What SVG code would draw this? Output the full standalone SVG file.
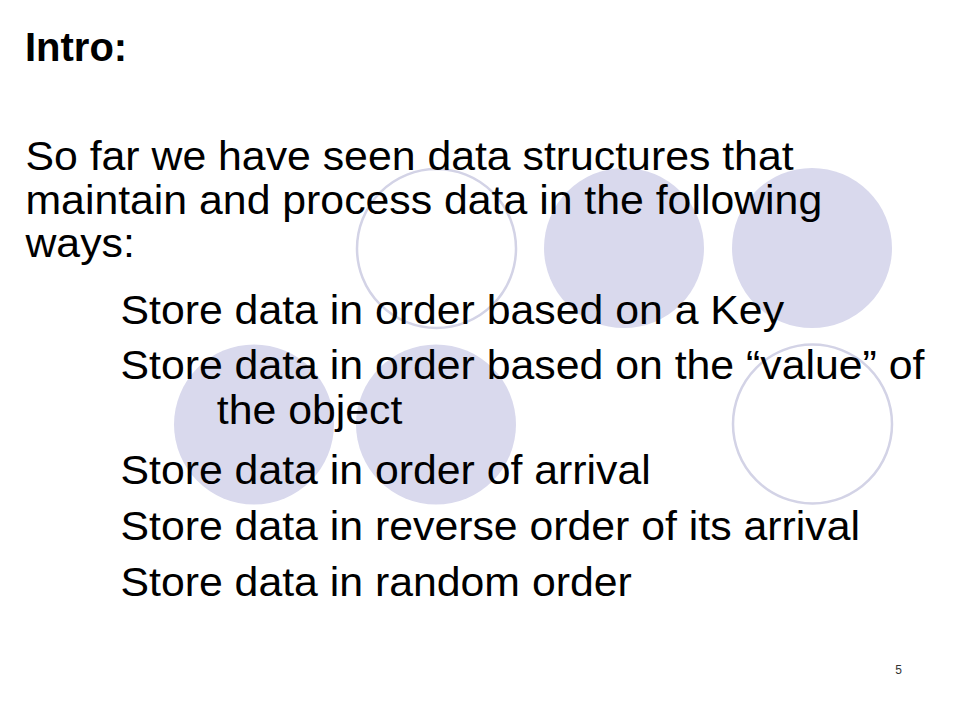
<svg xmlns="http://www.w3.org/2000/svg" width="960" height="720" viewBox="0 0 960 720">
  <style>
    .fill { fill: #d9d9ed; stroke: none; }
    .ring { fill: none; stroke: #d3d3e6; stroke-width: 2.5; }
    .body { font-family: "Liberation Sans", Arial, sans-serif; font-size: 40px; fill: #000; }
    .title { font-family: "Liberation Sans", Arial, sans-serif; font-size: 40px; font-weight: bold; fill: #000; }
    .num { font-family: "Liberation Sans", Arial, sans-serif; font-size: 12px; fill: #333; }
  </style>
  <rect width="960" height="720" fill="#ffffff"/>
  <g id="circles">
    <circle id="c1" class="ring" cx="436.5" cy="248.5" r="79.5"/>
    <circle id="c2" class="fill" cx="624" cy="248" r="80"/>
    <circle id="c3" class="fill" cx="812" cy="248" r="80"/>
    <circle id="c4" class="fill" cx="254" cy="424.5" r="80"/>
    <circle id="c5" class="fill" cx="436" cy="424.5" r="80"/>
    <circle id="c6" class="ring" cx="812.5" cy="424" r="79.5"/>
  </g>
  <g id="title">
    <text class="title" x="25" y="61">Intro:</text>
  </g>
  <g id="body" transform="scale(1.07 1)">
    <text class="body" x="23.8" y="170">So far we have seen data structures that</text>
    <text class="body" x="23.8" y="214">maintain and process data in the following</text>
    <text class="body" x="23.8" y="257">ways:</text>
    <text class="body" x="112.6" y="324">Store data in order based on a Key</text>
    <text class="body" x="112.6" y="379">Store data in order based on the “value” of</text>
    <text class="body" x="202.6" y="424">the object</text>
    <text class="body" x="112.6" y="484">Store data in order of arrival</text>
    <text class="body" x="112.6" y="540">Store data in reverse order of its arrival</text>
    <text class="body" x="112.6" y="596">Store data in random order</text>
  </g>
  <g id="page-number">
    <text class="num" x="902" y="674" text-anchor="end">5</text>
  </g>
</svg>
